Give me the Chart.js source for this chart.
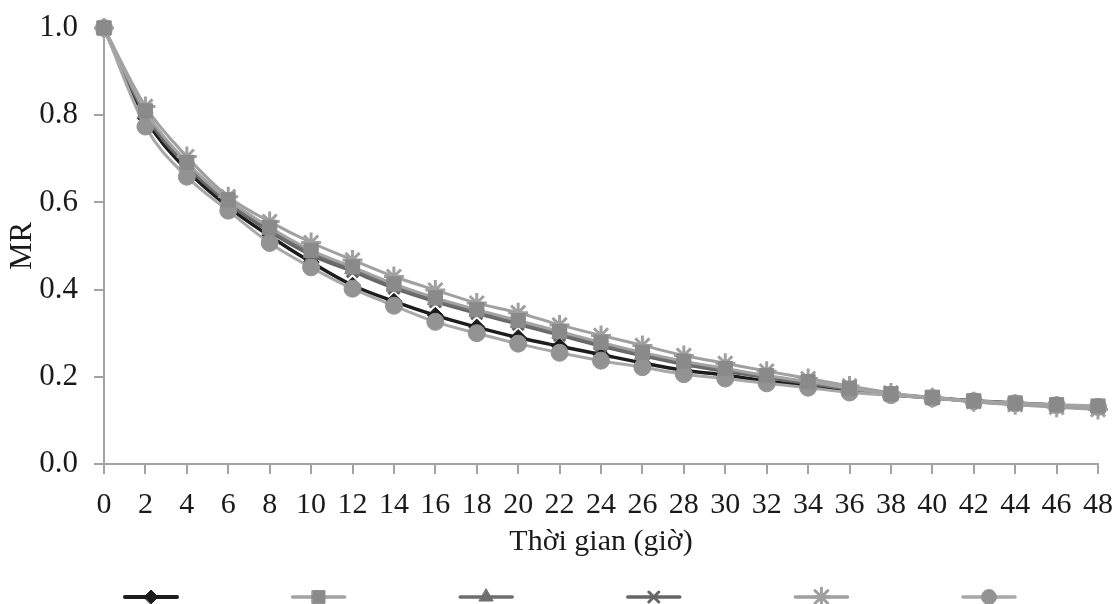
<!DOCTYPE html>
<html lang="vi">
<head>
<meta charset="UTF-8">
<title>MR</title>
<script src="https://cdn.jsdelivr.net/npm/chart.js@4.4.1/dist/chart.umd.min.js"></script>
<style>
    body { margin: 0; background: #fff; }
    #khung { width: 1115px; height: 604px; position: relative; }
</style>
</head>
<body>
<div id="khung"><canvas id="bieu_do"></canvas></div>
<script>
    // thoi gian (gio)
    var thoi_gian = [0, 2, 4, 6, 8, 10, 12, 14, 16, 18, 20, 22, 24, 26, 28, 30, 32, 34, 36, 38, 40, 42, 44, 46, 48]
    var nhan_y = [0, 0.2, 0.4, 0.6, 0.8, 1.0]

    // MR cua 6 mau
    var mr_1 = [1.0, 0.793, 0.674, 0.590, 0.523, 0.463, 0.410, 0.373, 0.341, 0.314, 0.290, 0.270, 0.251, 0.232, 0.215, 0.204, 0.190, 0.180, 0.168, 0.159, 0.152, 0.145, 0.140, 0.135, 0.130]
    var mr_2 = [1.0, 0.810, 0.692, 0.606, 0.543, 0.490, 0.452, 0.413, 0.381, 0.354, 0.329, 0.304, 0.279, 0.256, 0.236, 0.219, 0.203, 0.189, 0.174, 0.161, 0.153, 0.145, 0.140, 0.136, 0.133]
    var mr_3 = [1.0, 0.805, 0.686, 0.602, 0.537, 0.484, 0.447, 0.407, 0.376, 0.349, 0.324, 0.299, 0.274, 0.251, 0.231, 0.215, 0.200, 0.186, 0.172, 0.160, 0.152, 0.144, 0.139, 0.134, 0.130]
    var mr_4 = [1.0, 0.800, 0.683, 0.598, 0.533, 0.479, 0.441, 0.403, 0.372, 0.345, 0.320, 0.295, 0.270, 0.248, 0.228, 0.212, 0.198, 0.184, 0.171, 0.159, 0.151, 0.143, 0.137, 0.132, 0.126]
    var mr_5 = [1.0, 0.820, 0.705, 0.613, 0.556, 0.508, 0.468, 0.430, 0.399, 0.369, 0.347, 0.319, 0.295, 0.272, 0.249, 0.231, 0.213, 0.196, 0.179, 0.163, 0.152, 0.143, 0.136, 0.130, 0.125]
    var mr_6 = [1.0, 0.774, 0.659, 0.581, 0.507, 0.451, 0.402, 0.363, 0.326, 0.300, 0.276, 0.255, 0.237, 0.222, 0.206, 0.196, 0.185, 0.175, 0.164, 0.158, 0.151, 0.144, 0.139, 0.135, 0.131]

    function diem(ds) {
        var kq = []
        for (var i = 0; i < thoi_gian.length; i++) {
            kq.push({ x: thoi_gian[i], y: ds[i] })
        }
        return kq
    }

    var mau_truc = '#a3a3a3'
    var font_chu = 'Liberation Serif'

    function tao_ds(du_lieu, mau_duong, mau_diem, kieu, ban_kinh, day, thu_tu) {
        return {
            data: diem(du_lieu),
            borderColor: mau_duong,
            borderWidth: day,
            backgroundColor: mau_diem,
            pointBackgroundColor: mau_diem,
            pointBorderColor: mau_diem,
            pointBorderWidth: (kieu == 'crossRot' || kieu == 'star') ? 3 : 1,
            pointStyle: kieu,
            pointRadius: ban_kinh,
            pointHoverRadius: ban_kinh,
            cubicInterpolationMode: 'monotone',
            clip: false,
            order: thu_tu
        }
    }

    var cac_ds = [
        tao_ds(mr_1, '#1c1c1c', '#1c1c1c', 'rectRot', 8, 3.5, 5),
        tao_ds(mr_2, '#a3a3a3', '#8a8a8a', 'rect', 10, 3, 0),
        tao_ds(mr_3, '#6e6e6e', '#6e6e6e', 'triangle', 9, 3, 3),
        tao_ds(mr_4, '#666666', '#666666', 'crossRot', 8, 3, 4),
        tao_ds(mr_5, '#a0a0a0', '#a0a0a0', 'star', 10, 3, 1),
        tao_ds(mr_6, '#a8a8a8', '#939393', 'circle', 8.5, 3, 2)
    ]

    // chu giai: chi co doan thang + diem, khong co chu
    var chu_giai = {
        id: 'chu_giai',
        afterDraw: function (chart) {
            var ctx = chart.ctx
            var y = 597
            for (var i = 0; i < cac_ds.length; i++) {
                var d = cac_ds[i]
                var cx = 151 + i * 167.6
                ctx.save()
                ctx.strokeStyle = d.borderColor
                ctx.lineWidth = d.borderWidth + 0.5
                ctx.lineCap = 'round'
                ctx.beginPath()
                ctx.moveTo(cx - 26, y)
                ctx.lineTo(cx + 26, y)
                ctx.stroke()
                ctx.fillStyle = d.pointBackgroundColor
                ctx.strokeStyle = d.pointBorderColor
                ctx.lineWidth = d.pointBorderWidth
                Chart.helpers.drawPoint(ctx, {
                    pointStyle: d.pointStyle,
                    radius: d.pointRadius - 1,
                    rotation: 0,
                    borderWidth: d.pointBorderWidth
                }, cx, y)
                ctx.restore()
            }
        }
    }

    new Chart(document.getElementById('bieu_do'), {
        type: 'line',
        data: { datasets: cac_ds },
        options: {
            responsive: true,
            maintainAspectRatio: false,
            animation: false,
            layout: { padding: { left: 0, top: 28, right: 17, bottom: 43.6 } },
            plugins: {
                legend: { display: false },
                tooltip: { enabled: false }
            },
            scales: {
                x: {
                    type: 'linear',
                    min: 0,
                    max: 48,
                    afterFit: function (s) {
                        s.height = 96.4
                        s.paddingLeft = 0
                        s.paddingRight = 0
                    },
                    ticks: {
                        stepSize: 2,
                        autoSkip: false,
                        maxRotation: 0,
                        padding: 13,
                        color: '#1a1a1a',
                        font: { family: font_chu, size: 30 }
                    },
                    grid: { drawOnChartArea: false, drawTicks: true, tickLength: 10, color: mau_truc, lineWidth: 2 },
                    border: { color: mau_truc, width: 2 },
                    title: {
                        display: true,
                        text: 'Thời gian (giờ)',
                        color: '#1a1a1a',
                        padding: 0,
                        font: { family: font_chu, size: 30 }
                    }
                },
                y: {
                    min: 0,
                    max: 1,
                    afterFit: function (s) {
                        s.width = 104
                        s.paddingTop = 0
                        s.paddingBottom = 0
                    },
                    afterBuildTicks: function (s) {
                        s.ticks = nhan_y.map(function (v) { return { value: v } })
                    },
                    ticks: {
                        padding: 16,
                        color: '#1a1a1a',
                        font: { family: font_chu, size: 31 },
                        callback: function (v) { return Number(v).toFixed(1) }
                    },
                    grid: { drawOnChartArea: false, drawTicks: true, tickLength: 10, color: mau_truc, lineWidth: 2 },
                    border: { color: mau_truc, width: 2 },
                    title: {
                        display: true,
                        text: 'MR',
                        color: '#1a1a1a',
                        padding: { top: 4, bottom: 0 },
                        font: { family: font_chu, size: 31 }
                    }
                }
            }
        },
        plugins: [chu_giai]
    })
</script>
</body>
</html>
